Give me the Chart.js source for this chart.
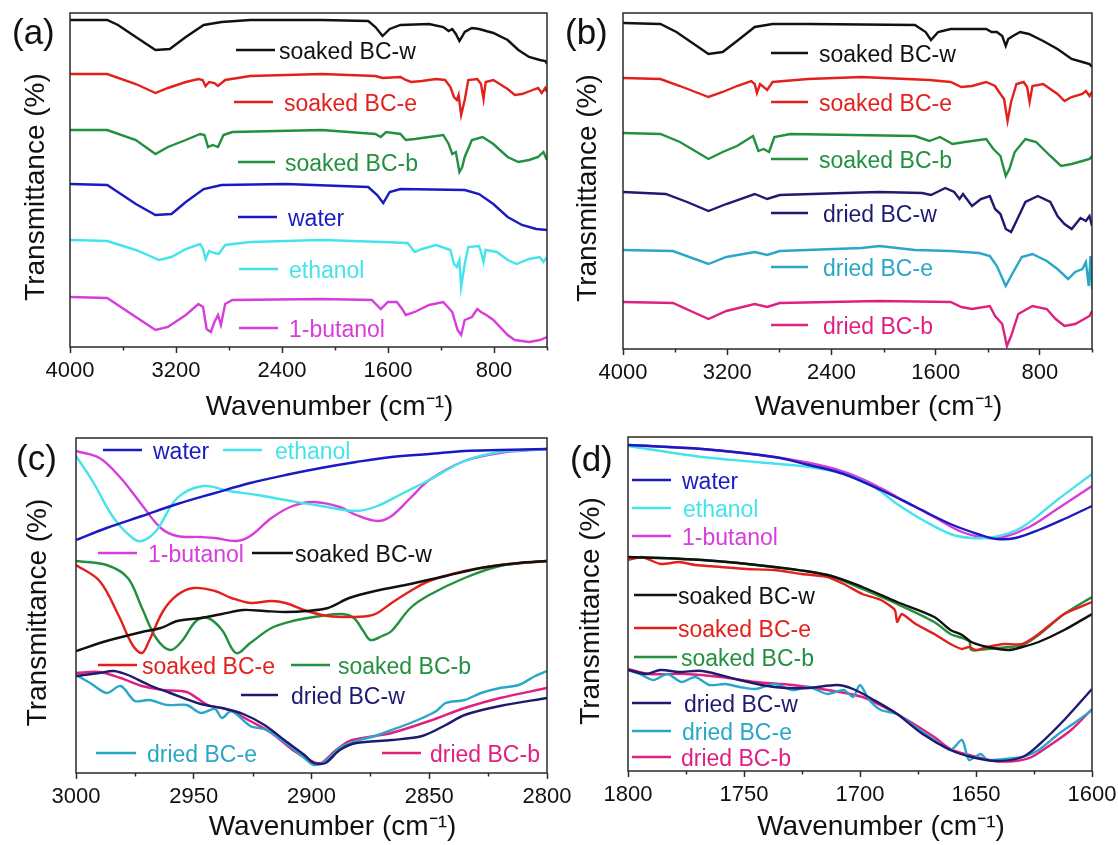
<!DOCTYPE html>
<html>
<head>
<meta charset="utf-8">
<script src="https://cdn.jsdelivr.net/npm/chart.js@4.4.1/dist/chart.umd.min.js"></script>
<style>
  html, body { margin: 0; padding: 0; background: #fff; width: 1118px; height: 845px; overflow: hidden; }
  canvas { position: absolute; }
</style>
</head>
<body>
<canvas id="pa" width="600" height="424" style="left:0;top:0"></canvas>
<canvas id="pb" width="580" height="424" style="left:560px;top:0"></canvas>
<canvas id="pc" width="600" height="419" style="left:0;top:425px"></canvas>
<canvas id="pd" width="580" height="419" style="left:560px;top:425px"></canvas>
<script>
// ---- tick labels ----
var fullMajor = [4000, 3200, 2400, 1600, 800];
var fullMinor = [3600, 2800, 2000, 1200, 400];
var chMajor = [3000, 2950, 2900, 2850, 2800];
var chMinor = [2975, 2925, 2875, 2825];
var ohMajor = [1800, 1750, 1700, 1650, 1600];
var ohMinor = [1775, 1725, 1675, 1625];

// ---- (a) wavenumber / offset transmittance ----
var aSoakedW = [[4000,327],[3719,327],[3638,322],[3503,310],[3355,297],[3247,298],[3126,310],[2991,322],[2856,325],[2640,327],[2100,327],[1749,326],[1695,320],[1641,311],[1587,318],[1506,322],[1290,323],[1183,320],[1142,316],[1115,318],[1088,313],[1061,306],[1042,310],[1021,315],[967,319],[913,318],[805,314],[697,307],[616,297],[535,290],[454,287],[413,286],[400,283]];
var aSoakedE = [[4000,273],[3719,273],[3503,263],[3355,254],[3261,259],[3126,265],[3031,268],[2999,267],[2977,261],[2950,265],[2910,264],[2883,261],[2829,267],[2640,271],[2100,273],[1695,271],[1641,269],[1506,270],[1466,267],[1425,265],[1344,266],[1237,268],[1169,267],[1129,260],[1102,250],[1080,247],[1067,252],[1048,232],[1021,247],[994,267],[926,268],[898,263],[879,248],[863,265],[805,267],[697,258],[643,252],[589,253],[508,257],[467,259],[440,254],[413,259],[400,255]];
var aSoakedB = [[4000,217],[3719,217],[3503,207],[3355,193],[3261,200],[3126,207],[3018,213],[2985,212],[2958,200],[2923,202],[2883,200],[2842,212],[2775,215],[2100,217],[1695,213],[1655,210],[1614,215],[1506,213],[1466,207],[1398,208],[1290,210],[1183,212],[1142,203],[1115,193],[1088,195],[1061,175],[1040,180],[1021,190],[967,207],[886,210],[805,203],[697,190],[616,185],[535,187],[467,190],[427,195],[400,187]];
var aWater = [[4000,163],[3719,162],[3503,143],[3355,132],[3234,133],[3126,145],[2991,158],[2856,162],[2370,163],[1749,160],[1682,152],[1636,144],[1587,155],[1506,158],[1021,157],[913,153],[805,143],[697,130],[589,122],[481,118],[400,117]];
var aEthanol = [[4000,107],[3719,106],[3503,97],[3328,87],[3234,90],[3126,98],[3018,103],[2996,98],[2977,88],[2950,96],[2910,94],[2877,93],[2829,102],[2640,105],[2100,107],[1641,105],[1452,104],[1398,95],[1344,98],[1237,102],[1129,97],[1102,83],[1080,80],[1061,87],[1048,60],[1021,83],[994,100],[913,101],[894,93],[879,85],[863,97],[778,95],[697,87],[629,83],[535,88],[454,90],[427,85],[400,90]];
var aButanol = [[4000,50],[3719,49],[3503,30],[3355,17],[3261,20],[3126,32],[3031,43],[2996,40],[2969,18],[2937,15],[2910,25],[2883,32],[2861,22],[2829,43],[2775,47],[2100,48],[1722,47],[1655,38],[1601,45],[1533,45],[1493,38],[1466,32],[1398,35],[1290,42],[1183,45],[1115,35],[1075,17],[1048,12],[1021,27],[967,30],[926,38],[898,35],[858,32],[805,27],[697,12],[643,7],[535,5],[454,7],[400,10]];

// ---- (b) ----
var bSoakedW = [[4000,326],[3713,325],[3590,317],[3344,295],[3235,297],[3125,308],[2989,322],[2852,325],[2579,325],[1759,324],[1677,317],[1636,309],[1581,317],[1485,320],[1212,320],[1171,317],[1130,317],[1089,313],[1062,303],[1043,310],[1007,313],[952,317],[884,315],[775,308],[665,300],[556,290],[474,287],[419,285],[400,282]];
var bSoakedE = [[4000,271],[3713,270],[3563,263],[3344,252],[3235,257],[3125,263],[3016,268],[2989,265],[2972,256],[2948,265],[2893,259],[2852,267],[2579,270],[2169,272],[1649,269],[1485,267],[1403,262],[1321,263],[1212,267],[1144,263],[1103,255],[1075,250],[1048,228],[1021,247],[980,265],[925,267],[898,262],[879,247],[857,263],[775,265],[665,255],[611,248],[556,252],[474,255],[447,258],[419,253],[400,257]];
var bSoakedB = [[4000,216],[3713,215],[3563,207],[3344,190],[3235,197],[3125,203],[3002,213],[2961,198],[2920,200],[2879,197],[2838,212],[2715,215],[1759,213],[1649,208],[1567,212],[1471,205],[1376,207],[1212,210],[1157,200],[1103,193],[1062,173],[1034,180],[993,197],[911,210],[829,207],[720,193],[638,183],[556,185],[474,188],[419,190],[400,193]];
var bDriedW = [[4000,157],[3672,155],[3508,147],[3344,138],[3207,145],[2989,155],[2893,150],[2797,154],[2305,156],[2032,157],[1704,156],[1636,154],[1526,161],[1458,157],[1417,150],[1390,155],[1321,143],[1253,150],[1184,153],[1144,140],[1103,135],[1062,120],[1021,117],[980,128],[911,147],[816,153],[720,147],[665,133],[611,125],[556,120],[488,131],[447,128],[419,133],[400,123]];
var bDriedE = [[4000,99],[3617,98],[3344,85],[3207,92],[2989,97],[2893,94],[2797,98],[2169,101],[2032,103],[1759,99],[1485,98],[1267,96],[1184,93],[1130,83],[1062,63],[1021,73],[939,92],[857,95],[747,88],[665,80],[583,70],[529,77],[474,80],[447,87],[425,63],[411,93],[400,60]];
var bDriedB = [[4000,47],[3617,46],[3344,30],[3207,38],[2989,45],[2893,42],[2797,46],[2032,48],[1485,47],[1403,42],[1321,40],[1184,43],[1144,33],[1089,25],[1053,3],[1021,13],[966,35],[857,43],[747,40],[679,30],[611,23],[529,25],[460,30],[419,33],[400,38]];

// ---- (c) C-H stretching region ----
var cWater = [[3000,233],[2987,245],[2972,257],[2957,269],[2941,280],[2926,290],[2911,298],[2896,305],[2881,311],[2866,316],[2850,319],[2835,322],[2820,323],[2800,324]];
var cEthanol = [[3000,317],[2993,292],[2984,255],[2976,235],[2972,232],[2966,242],[2957,275],[2946,287],[2935,282],[2923,278],[2911,273],[2896,267],[2881,262],[2872,267],[2861,280],[2850,293],[2835,312],[2820,321],[2800,324]];
var cButanol = [[3000,322],[2990,315],[2981,295],[2972,268],[2964,245],[2957,237],[2947,236],[2941,235],[2932,232],[2926,237],[2917,255],[2908,267],[2899,271],[2888,266],[2881,258],[2872,252],[2866,257],[2858,275],[2850,293],[2835,312],[2820,320],[2800,324]];
var cSoakedW = [[3000,122],[2987,132],[2972,141],[2964,145],[2957,152],[2947,155],[2938,159],[2929,163],[2920,162],[2911,161],[2902,162],[2893,165],[2884,175],[2873,182],[2858,189],[2843,197],[2828,205],[2812,210],[2800,212]];
var cSoakedE = [[3000,208],[2990,192],[2982,158],[2976,128],[2972,120],[2969,132],[2963,162],[2957,178],[2950,185],[2941,182],[2934,175],[2926,170],[2917,172],[2911,170],[2902,162],[2893,157],[2884,156],[2876,157],[2872,160],[2866,170],[2858,182],[2850,192],[2835,202],[2820,208],[2800,212]];
var cSoakedB = [[3000,212],[2987,208],[2978,195],[2972,165],[2966,135],[2960,123],[2955,132],[2949,152],[2944,155],[2938,143],[2932,120],[2926,130],[2917,145],[2908,152],[2896,157],[2887,159],[2882,155],[2878,142],[2875,133],[2870,137],[2866,142],[2858,165],[2850,178],[2835,195],[2820,207],[2800,212]];
var cDriedW = [[3000,97],[2990,100],[2984,102],[2978,98],[2969,88],[2960,80],[2947,69],[2938,65],[2929,59],[2920,48],[2911,32],[2903,18],[2899,10],[2894,10],[2888,23],[2881,30],[2866,33],[2853,37],[2843,48],[2835,58],[2820,67],[2800,75]];
var cDriedE = [[3000,98],[2994,90],[2987,80],[2981,87],[2975,72],[2969,73],[2961,68],[2953,68],[2947,60],[2941,64],[2938,55],[2934,62],[2926,47],[2919,43],[2911,30],[2903,15],[2899,8],[2894,12],[2888,25],[2881,32],[2873,37],[2866,43],[2858,50],[2853,55],[2847,62],[2843,70],[2835,73],[2828,80],[2820,85],[2812,88],[2805,97],[2800,102]];
var cDriedB = [[3000,100],[2990,101],[2981,95],[2972,87],[2963,83],[2953,81],[2944,68],[2935,63],[2926,52],[2917,40],[2908,23],[2900,12],[2896,10],[2890,22],[2884,32],[2873,37],[2866,40],[2850,52],[2835,65],[2820,75],[2800,85]];

// ---- (d) O-H bending region ----
var dWater = [[1800,326],[1768,322],[1737,314],[1722,306],[1707,297],[1691,281],[1676,264],[1661,247],[1648,236],[1641,232],[1633,233],[1623,241],[1612,252],[1600,265]];
var dEthanol = [[1800,325],[1783,319],[1768,314],[1745,309],[1722,304],[1707,297],[1694,284],[1684,267],[1673,251],[1661,237],[1652,233],[1642,234],[1630,244],[1615,271],[1600,297]];
var dButanol = [[1800,326],[1768,322],[1737,314],[1714,304],[1699,292],[1684,274],[1668,254],[1656,239],[1645,233],[1638,234],[1627,244],[1615,262],[1600,285]];
var dSoakedW = [[1800,214],[1768,211],[1737,204],[1714,196],[1699,184],[1684,169],[1668,154],[1661,141],[1656,136],[1652,129],[1645,124],[1636,121],[1630,124],[1623,129],[1612,141],[1600,157]];
var dSoakedE = [[1800,211],[1794,214],[1786,207],[1778,209],[1771,206],[1760,204],[1749,202],[1737,201],[1725,197],[1714,194],[1707,187],[1699,177],[1691,171],[1685,161],[1684,149],[1682,157],[1676,147],[1668,137],[1661,127],[1656,122],[1653,124],[1650,121],[1645,124],[1638,127],[1630,127],[1623,137],[1612,157],[1600,169]];
var dSoakedB = [[1800,214],[1768,211],[1737,204],[1714,196],[1699,182],[1684,167],[1668,149],[1661,137],[1653,130],[1652,121],[1645,122],[1636,124],[1630,126],[1623,136],[1612,157],[1600,174]];
var dDriedW = [[1800,101],[1792,97],[1786,101],[1778,99],[1768,100],[1752,91],[1737,84],[1722,83],[1710,86],[1703,82],[1694,71],[1684,57],[1673,37],[1661,21],[1652,14],[1641,10],[1630,14],[1623,26],[1612,51],[1600,82]];
var dDriedE = [[1800,101],[1795,97],[1789,91],[1783,97],[1777,89],[1771,94],[1765,86],[1758,87],[1752,84],[1745,82],[1737,87],[1729,81],[1722,84],[1714,77],[1707,81],[1703,74],[1700,86],[1696,71],[1691,61],[1684,57],[1676,44],[1668,31],[1661,21],[1656,31],[1653,11],[1648,17],[1645,11],[1638,12],[1630,14],[1623,21],[1615,36],[1607,49],[1600,61]];
var dDriedB = [[1800,102],[1791,97],[1775,97],[1760,94],[1745,89],[1729,86],[1714,81],[1699,74],[1684,57],[1668,34],[1661,22],[1653,16],[1642,10],[1633,10],[1626,14],[1618,26],[1609,41],[1600,62]];

// ---- styles ----
var fontFamily = "'Liberation Sans', Arial, sans-serif";
var axisColor = "#2a2a2a";
var cBlack = "#111111", cRed = "#e3211c", cGreen = "#22903f", cBlue = "#1a1ac2",
    cCyan = "#44e4ea", cMagenta = "#d63ddb", cNavy = "#1e1a70", cTeal = "#2aa7c8", cPink = "#df2080";
var xTitle = "Wavenumber (cm\u207B\u00B9)";
var yTitle = "Transmittance (%)";

Chart.defaults.font.family = fontFamily;
Chart.defaults.color = "#111";

// frame, minor ticks, axis titles, inline legend and panel letter
var decoPlugin = {
  id: "deco",
  afterDraw: function (chart, args, opts) {
    var ctx = chart.ctx;
    var area = chart.chartArea;
    var xs = chart.scales.x;
    ctx.save();
    ctx.strokeStyle = axisColor;
    ctx.lineWidth = 1.5;
    opts.minor.forEach(function (v) {
      var px = Math.round(xs.getPixelForValue(v)) + 0.5;
      ctx.beginPath();
      ctx.moveTo(px, area.bottom);
      ctx.lineTo(px, area.bottom + 3.5);
      ctx.stroke();
    });
    ctx.strokeRect(area.left, area.top, area.right - area.left, area.bottom - area.top);

    // axis titles (the originals sit a little right / below the plot centre)
    ctx.fillStyle = "#111";
    ctx.font = "28px " + fontFamily;
    ctx.textAlign = "center";
    ctx.textBaseline = "middle";
    ctx.fillText(xTitle, (area.left + area.right) / 2 + 21, opts.xTitleY);
    ctx.save();
    ctx.translate(opts.yTitleX, (area.top + area.bottom) / 2 + 7);
    ctx.rotate(-Math.PI / 2);
    ctx.fillText(yTitle, 0, 0);
    ctx.restore();

    ctx.textAlign = "left";
    ctx.font = "23px " + fontFamily;
    ctx.lineWidth = 2.5;
    chart.data.datasets.forEach(function (ds, i) {
      var p = opts.legend[i];
      var y = area.top + p[1];
      ctx.strokeStyle = ds.borderColor;
      ctx.beginPath();
      ctx.moveTo(area.left + p[0], y);
      ctx.lineTo(area.left + p[0] + p[2], y);
      ctx.stroke();
      ctx.fillStyle = ds.borderColor;
      ctx.fillText(ds.label, area.left + p[3], y + 3);
    });

    ctx.font = "35px " + fontFamily;
    ctx.fillStyle = "#111";
    ctx.fillText(opts.label, opts.labelPos[0], opts.labelPos[1]);
    ctx.restore();
  }
};

function series(label, data, color, tension) {
  return {
    label: label,
    data: data,
    borderColor: color,
    backgroundColor: color,
    borderWidth: 2.4,
    pointRadius: 0,
    tension: tension,
    fill: false
  };
}

function makePanel(id, g, xMin, xMax, major, minor, yMax, datasets, legend, label) {
  new Chart(document.getElementById(id), {
    type: "line",
    data: { datasets: datasets },
    plugins: [decoPlugin],
    options: {
      responsive: false,
      animation: false,
      events: [],
      layout: { padding: { left: 0, top: g.top, right: g.right, bottom: 0 } },
      plugins: {
        legend: { display: false },
        tooltip: { enabled: false },
        deco: {
          minor: minor, legend: legend, label: label, labelPos: g.labelPos,
          xTitleY: g.xTitleY, yTitleX: g.yTitleX
        }
      },
      scales: {
        x: {
          type: "linear",
          min: xMin,
          max: xMax,
          reverse: true,
          afterBuildTicks: function (s) {
            s.ticks = major.map(function (v) { return { value: v }; });
          },
          afterFit: function (s) { s.height = g.xh; },
          ticks: {
            autoSkip: false,
            maxRotation: 0,
            padding: 5,
            color: "#111",
            font: { size: 22 },
            callback: function (v) { return String(v); }
          },
          grid: {
            display: true,
            drawOnChartArea: false,
            drawTicks: true,
            tickLength: 6,
            tickWidth: 1.5,
            tickColor: axisColor
          },
          border: { display: false },
          title: { display: false }
        },
        y: {
          min: 0,
          max: yMax,
          afterFit: function (s) { s.width = g.yw; },
          ticks: { display: false },
          grid: { display: false },
          border: { display: false },
          title: { display: false }
        }
      }
    }
  });
}

makePanel("pa", { top: 13, right: 53, xh: 77, yw: 70, labelPos: [12, 34], xTitleY: 407, yTitleX: 36 },
  400, 4000, fullMajor, fullMinor, 334,
  [
    series("soaked BC-w", aSoakedW, cBlack, 0),
    series("soaked BC-e", aSoakedE, cRed, 0),
    series("soaked BC-b", aSoakedB, cGreen, 0),
    series("water", aWater, cBlue, 0),
    series("ethanol", aEthanol, cCyan, 0),
    series("1-butanol", aButanol, cMagenta, 0)
  ],
  [[166, 37, 39, 209], [164, 89, 39, 214], [168, 149, 37, 215], [168, 204, 39, 218], [169, 256, 39, 219], [169, 315, 39, 219]],
  "(a)");

makePanel("pb", { top: 13, right: 48, xh: 75, yw: 63, labelPos: [5, 34], xTitleY: 407, yTitleX: 28 },
  400, 4000, fullMajor, fullMinor, 336,
  [
    series("soaked BC-w", bSoakedW, cBlack, 0),
    series("soaked BC-e", bSoakedE, cRed, 0),
    series("soaked BC-b", bSoakedB, cGreen, 0),
    series("dried BC-w", bDriedW, cNavy, 0),
    series("dried BC-e", bDriedE, cTeal, 0),
    series("dried BC-b", bDriedB, cPink, 0)
  ],
  [[148, 40, 37, 196], [148, 89, 37, 196], [148, 146, 37, 196], [148, 200, 37, 200], [148, 254, 37, 200], [148, 312, 37, 200]],
  "(b)");

makePanel("pc", { top: 13, right: 53, xh: 71, yw: 76, labelPos: [16, 35], xTitleY: 402, yTitleX: 38 },
  2800, 3000, chMajor, chMinor, 335,
  [
    series("water", cWater, cBlue, 0.35),
    series("ethanol", cEthanol, cCyan, 0.35),
    series("1-butanol", cButanol, cMagenta, 0.35),
    series("soaked BC-w", cSoakedW, cBlack, 0.3),
    series("soaked BC-e", cSoakedE, cRed, 0.35),
    series("soaked BC-b", cSoakedB, cGreen, 0.35),
    series("dried BC-w", cDriedW, cNavy, 0.3),
    series("dried BC-e", cDriedE, cTeal, 0.3),
    series("dried BC-b", cDriedB, cPink, 0.3)
  ],
  [[27, 12, 39, 77], [147, 12, 39, 199], [22, 115, 39, 72], [176, 115, 41, 219], [22, 227, 39, 66], [215, 227, 39, 262], [165, 257, 37, 215], [20, 315, 40, 71], [306, 315, 39, 354]],
  "(c)");

makePanel("pd", { top: 12, right: 48, xh: 73, yw: 68, labelPos: [10, 36], xTitleY: 402, yTitleX: 31 },
  1600, 1800, ohMajor, ohMinor, 334,
  [
    series("water", dWater, cBlue, 0.35),
    series("ethanol", dEthanol, cCyan, 0.35),
    series("1-butanol", dButanol, cMagenta, 0.35),
    series("soaked BC-w", dSoakedW, cBlack, 0.3),
    series("soaked BC-e", dSoakedE, cRed, 0.2),
    series("soaked BC-b", dSoakedB, cGreen, 0.3),
    series("dried BC-w", dDriedW, cNavy, 0.3),
    series("dried BC-e", dDriedE, cTeal, 0.25),
    series("dried BC-b", dDriedB, cPink, 0.3)
  ],
  [[4, 43, 39, 54], [4, 71, 39, 55], [4, 99, 39, 54], [6, 158, 43, 50], [6, 191, 43, 50], [6, 220, 43, 53], [4, 266, 39, 56], [4, 294, 39, 54], [4, 320, 39, 53]],
  "(d)");
</script>
</body>
</html>
